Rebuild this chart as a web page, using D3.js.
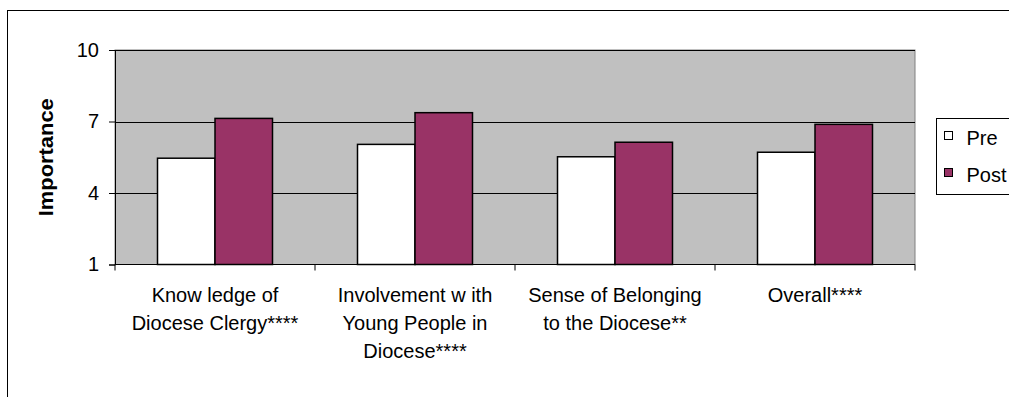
<!DOCTYPE html>
<html>
    <head>
        <style>
            body { margin: 0; background: #fff; }
            svg { display: block; font-family: "Liberation Sans", Arial, sans-serif; }
        </style>
        <script src="https://cdnjs.cloudflare.com/ajax/libs/d3/7.8.5/d3.min.js"></script>
    </head>
    <body>
        <div class="ChartContainer"></div>
        <script>
            const categories = [
                ["Know ledge of", "Diocese Clergy****"],
                ["Involvement w ith", "Young People in", "Diocese****"],
                ["Sense of Belonging", "to the Diocese**"],
                ["Overall****"]
            ];
            const seriesNames = ["Pre", "Post"];
            const preValues = [5.46, 6.04, 5.52, 5.71];
            const postValues = [7.13, 7.37, 6.13, 6.88];
            const yTicks = [1, 4, 7, 10];

            const w = 1009;
            const h = 397;
            const plot = { left: 115, right: 915, top: 50, bottom: 264.5 };
            const colors = ["#ffffff", "#993366"];
            const fontSize = 20;

            const svg = d3.select(".ChartContainer")
                .append("svg")
                .attr("width", w)
                .attr("height", h);

            // outer chart border (runs off the right and bottom)
            svg.append("rect")
                .attr("x", 7.5).attr("y", 10.5)
                .attr("width", w + 10).attr("height", h + 10)
                .attr("fill", "none").attr("stroke", "#000").attr("stroke-width", 1);

            const xScale = d3.scaleBand()
                .domain(d3.range(categories.length))
                .range([plot.left, plot.right]);

            const xInner = d3.scaleBand()
                .domain(seriesNames)
                .range([42.5, xScale.bandwidth() - 42.5]);

            const yScale = d3.scaleLinear()
                .domain([1, 10])
                .range([plot.bottom, plot.top]);

            // plot background
            svg.append("rect")
                .attr("x", plot.left).attr("y", plot.top)
                .attr("width", plot.right - plot.left).attr("height", plot.bottom - plot.top)
                .attr("fill", "#c0c0c0").attr("stroke", "#808080");

            // gridlines
            svg.append("g")
                .selectAll("line")
                .data(yTicks.slice(1))
                .enter()
                .append("line")
                .attr("x1", plot.left).attr("x2", plot.right)
                .attr("y1", d => Math.round(yScale(d)) + 0.5)
                .attr("y2", d => Math.round(yScale(d)) + 0.5)
                .attr("stroke", "#000");

            const data = categories.map((c, i) => ({ i: i, values: [preValues[i], postValues[i]] }));

            svg.append("g")
                .selectAll("g")
                .data(data)
                .enter()
                .append("g")
                .attr("transform", d => "translate(" + xScale(d.i) + ",0)")
                .selectAll("rect")
                .data(d => d.values.map((v, k) => ({ name: seriesNames[k], value: v, k: k })))
                .enter()
                .append("rect")
                .attr("x", d => xInner(d.name))
                .attr("y", d => yScale(d.value))
                .attr("width", xInner.bandwidth())
                .attr("height", d => yScale(1) - yScale(d.value))
                .attr("fill", d => colors[d.k])
                .attr("stroke", "#000")
                .attr("stroke-width", 1.5);

            // y axis
            const yAxis = d3.axisLeft(yScale).tickValues(yTicks).tickSize(6).tickPadding(10);
            const gy = svg.append("g")
                .attr("transform", "translate(" + plot.left + ",0)")
                .call(yAxis);
            gy.selectAll("text").attr("font-size", fontSize).attr("fill", "#000").attr("font-family", "Liberation Sans, Arial, sans-serif");
            gy.selectAll("line, path").attr("stroke", "#000");

            // x axis
            const gx = svg.append("g")
                .attr("transform", "translate(0," + plot.bottom + ")");
            gx.append("line")
                .attr("x1", plot.left).attr("x2", plot.right)
                .attr("stroke", "#000");
            gx.selectAll(".tick")
                .data(d3.range(categories.length + 1))
                .enter()
                .append("line")
                .attr("x1", d => d < categories.length ? xScale(d) : plot.right)
                .attr("x2", d => d < categories.length ? xScale(d) : plot.right)
                .attr("y1", 0).attr("y2", 6)
                .attr("stroke", "#000");

            const labels = svg.append("g")
                .selectAll("text")
                .data(data)
                .enter()
                .append("text")
                .attr("text-anchor", "middle")
                .attr("font-size", fontSize)
                .attr("fill", "#000")
                .attr("transform", d => "translate(" + (xScale(d.i) + xScale.bandwidth() / 2) + ",302)");
            labels.selectAll("tspan")
                .data(d => categories[d.i])
                .enter()
                .append("tspan")
                .attr("x", 0)
                .attr("dy", (d, i) => i === 0 ? 0 : 28)
                .text(d => d);

            // y axis title
            svg.append("text")
                .attr("transform", "translate(53," + (plot.top + plot.bottom) / 2 + ") rotate(-90)")
                .attr("text-anchor", "middle")
                .attr("font-size", fontSize)
                .attr("font-weight", "bold")
                .attr("textLength", 118)
                .attr("lengthAdjust", "spacingAndGlyphs")
                .text("Importance");

            // legend
            const legend = svg.append("g").attr("transform", "translate(936.5,118.5)");
            legend.append("rect")
                .attr("width", 90).attr("height", 76)
                .attr("fill", "#fff").attr("stroke", "#000");
            const items = legend.selectAll("g")
                .data(seriesNames)
                .enter()
                .append("g")
                .attr("transform", (d, i) => "translate(8," + (13 + i * 37) + ")");
            items.append("rect")
                .attr("width", 8).attr("height", 8)
                .attr("fill", (d, i) => colors[i])
                .attr("stroke", "#000");
            items.append("text")
                .attr("x", 22).attr("y", 13)
                .attr("font-size", fontSize)
                .text(d => d);
        </script>
    </body>
</html>
